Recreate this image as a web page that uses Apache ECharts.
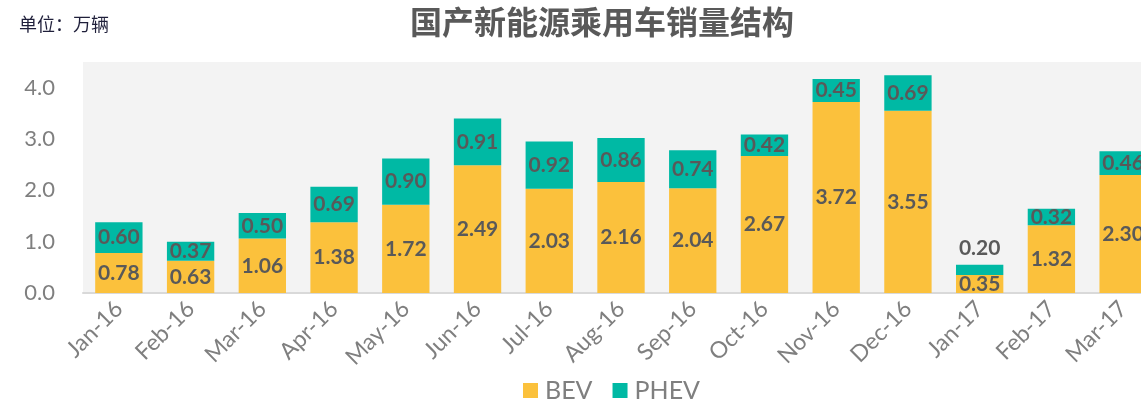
<!DOCTYPE html>
<html>
<head>
<meta charset="utf-8">
<script src="https://cdn.jsdelivr.net/npm/echarts@6/dist/echarts.min.js"></script>
<style>
  html, body { margin: 0; padding: 0; background: #fff; }
  #chart { width: 1141px; height: 404px; }
</style>
</head>
<body>
<div id="chart"></div>
<script>
// 月份
const months = ["Jan-16", "Feb-16", "Mar-16", "Apr-16", "May-16", "Jun-16", "Jul-16", "Aug-16",
  "Sep-16", "Oct-16", "Nov-16", "Dec-16", "Jan-17", "Feb-17", "Mar-17"];
// 纯电动
const bev = [0.78, 0.63, 1.06, 1.38, 1.72, 2.49, 2.03, 2.16, 2.04, 2.67, 3.72, 3.55, 0.35, 1.32, 2.30];
// 插电混动
const phev = [0.60, 0.37, 0.50, 0.69, 0.90, 0.91, 0.92, 0.86, 0.74, 0.42, 0.45, 0.69, 0.20, 0.32, 0.46];

const labelFont = "Lato, 'Open Sans', sans-serif";
const valueLabel = {
  show: true,
  position: "inside",
  color: "#595959",
  fontSize: 21,
  fontWeight: "bold",
  fontFamily: labelFont,
  formatter: p => p.value.toFixed(2)
};

// 太小的柱子标签放到上面
const phevData = phev.map(v => v < 0.3
  ? { value: v, label: { position: "top", distance: 6 } }
  : v);

const chart = echarts.init(document.getElementById("chart"));
chart.setOption({
  animation: false,
  title: [
    {
      text: "国产新能源乘用车销量结构",
      left: 597, top: 1, textAlign: "center",
      textStyle: { fontSize: 32, fontWeight: "bold", color: "#595959", fontFamily: "'Noto Sans CJK SC'" }
    },
    {
      text: "单位：万辆",
      left: 14, top: 10,
      textStyle: { fontSize: 18, fontWeight: "normal", color: "#1f1f3a", fontFamily: "'Noto Sans CJK SC'" }
    }
  ],
  legend: {
    bottom: -4,
    left: 518,
    itemWidth: 15, itemHeight: 15, itemGap: 20,
    icon: "rect",
    textStyle: { fontSize: 25, color: "#7f7f7f", fontFamily: labelFont, padding: [0, 0, 0, 2] },
    data: ["BEV", "PHEV"]
  },
  // 图表右侧被截断，网格超出画布
  grid: {
    left: 83, width: 1076, top: 62, bottom: 111,
    outerBoundsMode: "none",
    backgroundColor: "#f3f3f3", show: true, borderWidth: 0
  },
  xAxis: {
    type: "category",
    data: months,
    axisLine: { lineStyle: { color: "#d9d9d9", width: 2 } },
    axisTick: { show: false },
    axisLabel: { rotate: 45, fontSize: 23, color: "#7f7f7f", fontFamily: labelFont, margin: 12 }
  },
  yAxis: {
    type: "value",
    min: 0, max: 4.5, interval: 1,
    splitLine: { show: false },
    axisLine: { show: false },
    axisLabel: {
      fontSize: 22, color: "#7f7f7f", fontFamily: labelFont, margin: 28,
      showMaxLabel: false,
      formatter: v => v.toFixed(1)
    }
  },
  series: [
    {
      name: "BEV", type: "bar", stack: "total", data: bev,
      barCategoryGap: "34%",
      itemStyle: { color: "#fbc13c" },
      label: valueLabel
    },
    {
      name: "PHEV", type: "bar", stack: "total", data: phevData,
      itemStyle: { color: "#00b9a4" },
      label: valueLabel
    }
  ]
});
</script>
</body>
</html>
